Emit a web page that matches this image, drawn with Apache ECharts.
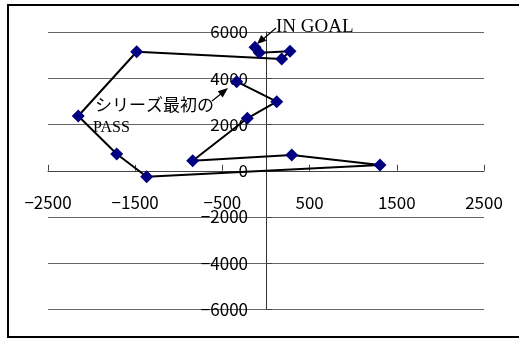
<!DOCTYPE html>
<html>
<head>
<meta charset="utf-8">
<script src="https://cdn.jsdelivr.net/npm/echarts@6/dist/echarts.min.js"></script>
<style>
  html, body { margin: 0; padding: 0; background: #fff; }
  #chart { width: 519px; height: 340px; }
</style>
</head>
<body>
<div id="chart"></div>
<script>
// Ball path, in order, from the first pass to the goal
const xValues = [-336, 123, -214, -841, 295, 1307, -1368, -1712, -2153, -1483, 180, 275, -77, -126];
const yValues = [3851, 2986, 2268, 435, 681, 249, -257, 724, 2368, 5148, 4832, 5165, 5105, 5338];

// Axis settings
const xRange = [-2500, 2500];
const xStep = 1000;
const yRange = [-6000, 6000];
const yStep = 2000;

const pathPoints = xValues.map((x, i) => [x, yValues[i]]);
const fmt = v => (v < 0 ? '\u2212' + Math.abs(v) : String(v));

// plot box in pixels
const G = { left: 48, right: 35, top: 32, bottom: 30.5 };
const W = 519, H = 340;
const plotW = W - G.left - G.right;
const plotH = H - G.top - G.bottom;
// shift the axes so they cross at the origin, labels included
const xAxisOffset = -plotH * (0 - yRange[0]) / (yRange[1] - yRange[0]);
const yAxisOffset = -plotW * (0 - xRange[0]) / (xRange[1] - xRange[0]);

const chart = echarts.init(document.getElementById('chart'));
const labelFont = { fontFamily: 'Noto Sans CJK JP', fontSize: 17, color: '#000' };

chart.setOption({
  animation: false,
  backgroundColor: '#fff',
  grid: Object.assign({ containLabel: false, outerBoundsMode: 'none' }, G),
  xAxis: {
    type: 'value',
    position: 'bottom',
    offset: xAxisOffset,
    min: xRange[0], max: xRange[1], interval: xStep,
    axisLine: { onZero: false, lineStyle: { color: '#444', width: 1 } },
    axisTick: { show: true, inside: true, length: 6, lineStyle: { color: '#444' } },
    axisLabel: Object.assign({ margin: 23, formatter: fmt }, labelFont),
    splitLine: { show: false }
  },
  yAxis: {
    type: 'value',
    position: 'left',
    offset: yAxisOffset,
    min: yRange[0], max: yRange[1], interval: yStep,
    axisLine: { onZero: false, lineStyle: { color: '#333', width: 1 } },
    axisTick: { show: true, inside: true, length: 6, lineStyle: { color: '#444' } },
    axisLabel: Object.assign({ margin: 18, formatter: fmt }, labelFont),
    splitLine: { show: true, lineStyle: { color: '#666', width: 1 } }
  },
  series: [{
    type: 'line',
    data: pathPoints,
    symbol: 'diamond',
    symbolSize: 13,
    showSymbol: true,
    lineStyle: { color: '#000', width: 2 },
    itemStyle: { color: '#000080', borderWidth: 0 },
    z: 3
  }],
  graphic: [
    // chart frame
    { type: 'rect', shape: { x: 8, y: 5, width: 540, height: 332 },
      style: { fill: null, stroke: '#000', lineWidth: 2 }, silent: true, z: 100 },
    // IN GOAL callout
    { type: 'line', shape: { x1: 276, y1: 28, x2: 262, y2: 40 },
      style: { stroke: '#000', lineWidth: 1.2 }, z: 100 },
    { type: 'polygon', shape: { points: [[257, 44], [266.5, 40.8], [261.2, 35]] },
      style: { fill: '#000' }, z: 100 },
    { type: 'text', x: 276, y: 27,
      style: { text: 'IN GOAL', fontFamily: 'Liberation Serif', fontSize: 19,
               fill: '#000', verticalAlign: 'middle', align: 'left' }, z: 100 },
    // first-pass callout
    { type: 'line', shape: { x1: 212, y1: 101, x2: 222, y2: 93 },
      style: { stroke: '#000', lineWidth: 1.2 }, z: 100 },
    { type: 'polygon', shape: { points: [[228, 88], [222.7, 97.4], [217.7, 91.2]] },
      style: { fill: '#000' }, z: 100 },
    { type: 'text', x: 95, y: 105,
      style: { text: 'シリーズ最初の', fontFamily: 'Noto Sans CJK JP', fontSize: 17,
               fill: '#000', verticalAlign: 'middle', align: 'left' }, z: 100 },
    { type: 'text', x: 93, y: 128,
      style: { text: 'PASS', fontFamily: 'Liberation Serif', fontSize: 16,
               fill: '#000', verticalAlign: 'middle', align: 'left' }, z: 100 }
  ]
});
</script>
</body>
</html>
